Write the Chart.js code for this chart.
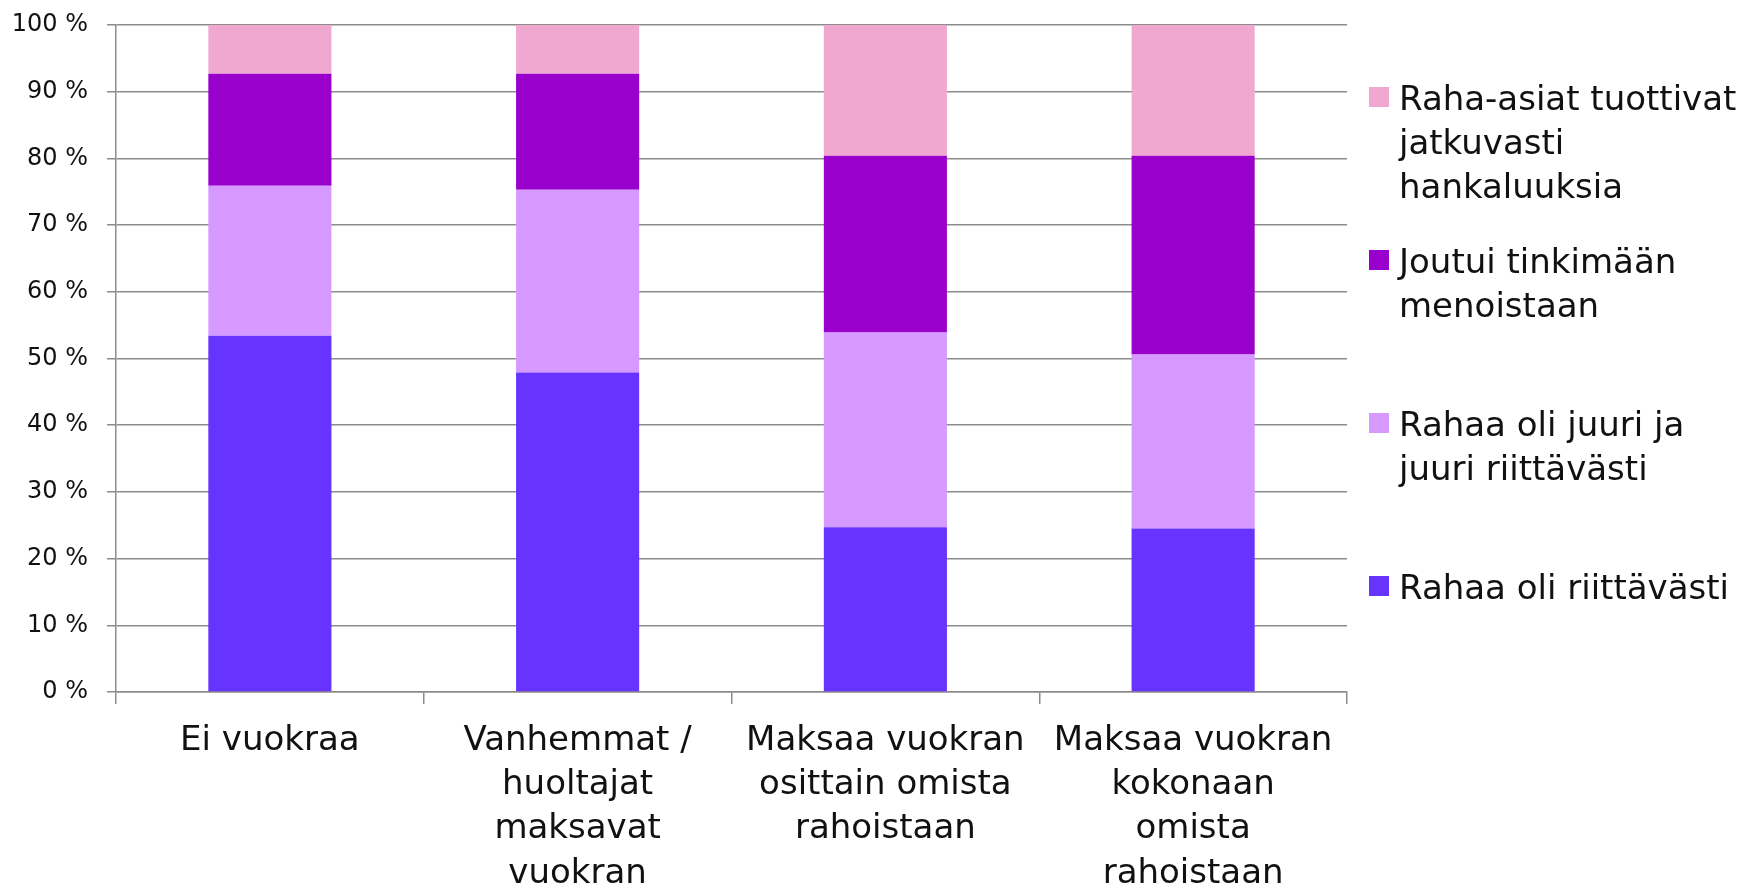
<!DOCTYPE html>
<html>
<head>
<meta charset="utf-8">
<script src="https://cdn.jsdelivr.net/npm/chart.js@4.4.1/dist/chart.umd.min.js"></script>
<style>
  html, body { margin: 0; padding: 0; background: #fff; }
  #wrap { position: relative; width: 1758px; height: 892px; }
  #legend { position: absolute; left: 1369px; top: 76px; font-family: "DejaVu Sans", sans-serif; font-size: 34px; line-height: 44px; color: #111; }
  .item { position: relative; height: 163px; white-space: nowrap; }
  .box { position: absolute; left: 0; top: 11px; width: 20px; height: 20px; }
  .txt { position: absolute; left: 30px; top: 0; }
</style>
</head>
<body>
<div id="wrap">
  <canvas id="chart" width="1758" height="892"></canvas>
  <div id="legend"></div>
</div>
<script>
const categories = [
  'Ei vuokraa',
  ['Vanhemmat /', 'huoltajat', 'maksavat', 'vuokran'],
  ['Maksaa vuokran', 'osittain omista', 'rahoistaan'],
  ['Maksaa vuokran', 'kokonaan', 'omista', 'rahoistaan']
];

// bottom -> top of stack
const riittavasti = [53.4, 47.9, 24.7, 24.5];
const juuriJaJuuri = [22.5, 27.4, 29.2, 26.1];
const tinkimaan = [16.8, 17.4, 26.5, 29.8];
const hankaluuksia = [7.3, 7.3, 19.6, 19.6];

const seriesNames = [
  ['Rahaa oli riittävästi'],
  ['Rahaa oli juuri ja', 'juuri riittävästi'],
  ['Joutui tinkimään', 'menoistaan'],
  ['Raha-asiat tuottivat', 'jatkuvasti', 'hankaluuksia']
];
const seriesColors = ['#6633ff', '#d699ff', '#9900cc', '#f0a8d0'];
const yTicks = [0, 10, 20, 30, 40, 50, 60, 70, 80, 90, 100];

const gridColor = '#8c8c8c';

const chart = new Chart(document.getElementById('chart'), {
  type: 'bar',
  data: {
    labels: categories,
    datasets: [riittavasti, juuriJaJuuri, tinkimaan, hankaluuksia].map((vals, i) => ({
      label: seriesNames[i].join(' '),
      data: vals,
      backgroundColor: seriesColors[i],
      borderWidth: 0,
      barPercentage: 0.4,
      categoryPercentage: 1
    }))
  },
  options: {
    responsive: false,
    animation: false,
    layout: { padding: { top: 25, right: 411, left: 0, bottom: 0 } },
    plugins: { legend: { display: false }, tooltip: { enabled: false } },
    scales: {
      x: {
        stacked: true,
        afterFit: s => { s.height = 200; },
        grid: { drawOnChartArea: false, offset: true, color: gridColor, lineWidth: 1.5, tickLength: 12 },
        border: { color: gridColor, width: 1.5 },
        ticks: {
          color: '#111', maxRotation: 0, autoSkip: false, padding: 15,
          font: { family: 'DejaVu Sans', size: 34, lineHeight: 1.3 }
        }
      },
      y: {
        stacked: true,
        min: 0, max: 100,
        afterFit: s => { s.width = 116; s.paddingTop = 0; s.paddingBottom = 0; },
        afterBuildTicks: s => { s.ticks = yTicks.map(v => ({ value: v })); },
        grid: { color: gridColor, lineWidth: 1.5, tickLength: 9 },
        border: { color: gridColor, width: 1.5 },
        ticks: {
          color: '#111', padding: 19,
          font: { family: 'DejaVu Sans', size: 24 },
          callback: v => v + ' %'
        }
      }
    }
  }
});

// legend, top to bottom in reverse stack order
const legend = document.getElementById('legend');
chart.data.datasets.slice().reverse().forEach((ds, k) => {
  const idx = chart.data.datasets.length - 1 - k;
  const item = document.createElement('div');
  item.className = 'item';
  const box = document.createElement('div');
  box.className = 'box';
  box.style.background = ds.backgroundColor;
  const txt = document.createElement('div');
  txt.className = 'txt';
  txt.innerHTML = seriesNames[idx].join('<br>');
  item.appendChild(box);
  item.appendChild(txt);
  legend.appendChild(item);
});
</script>
</body>
</html>
